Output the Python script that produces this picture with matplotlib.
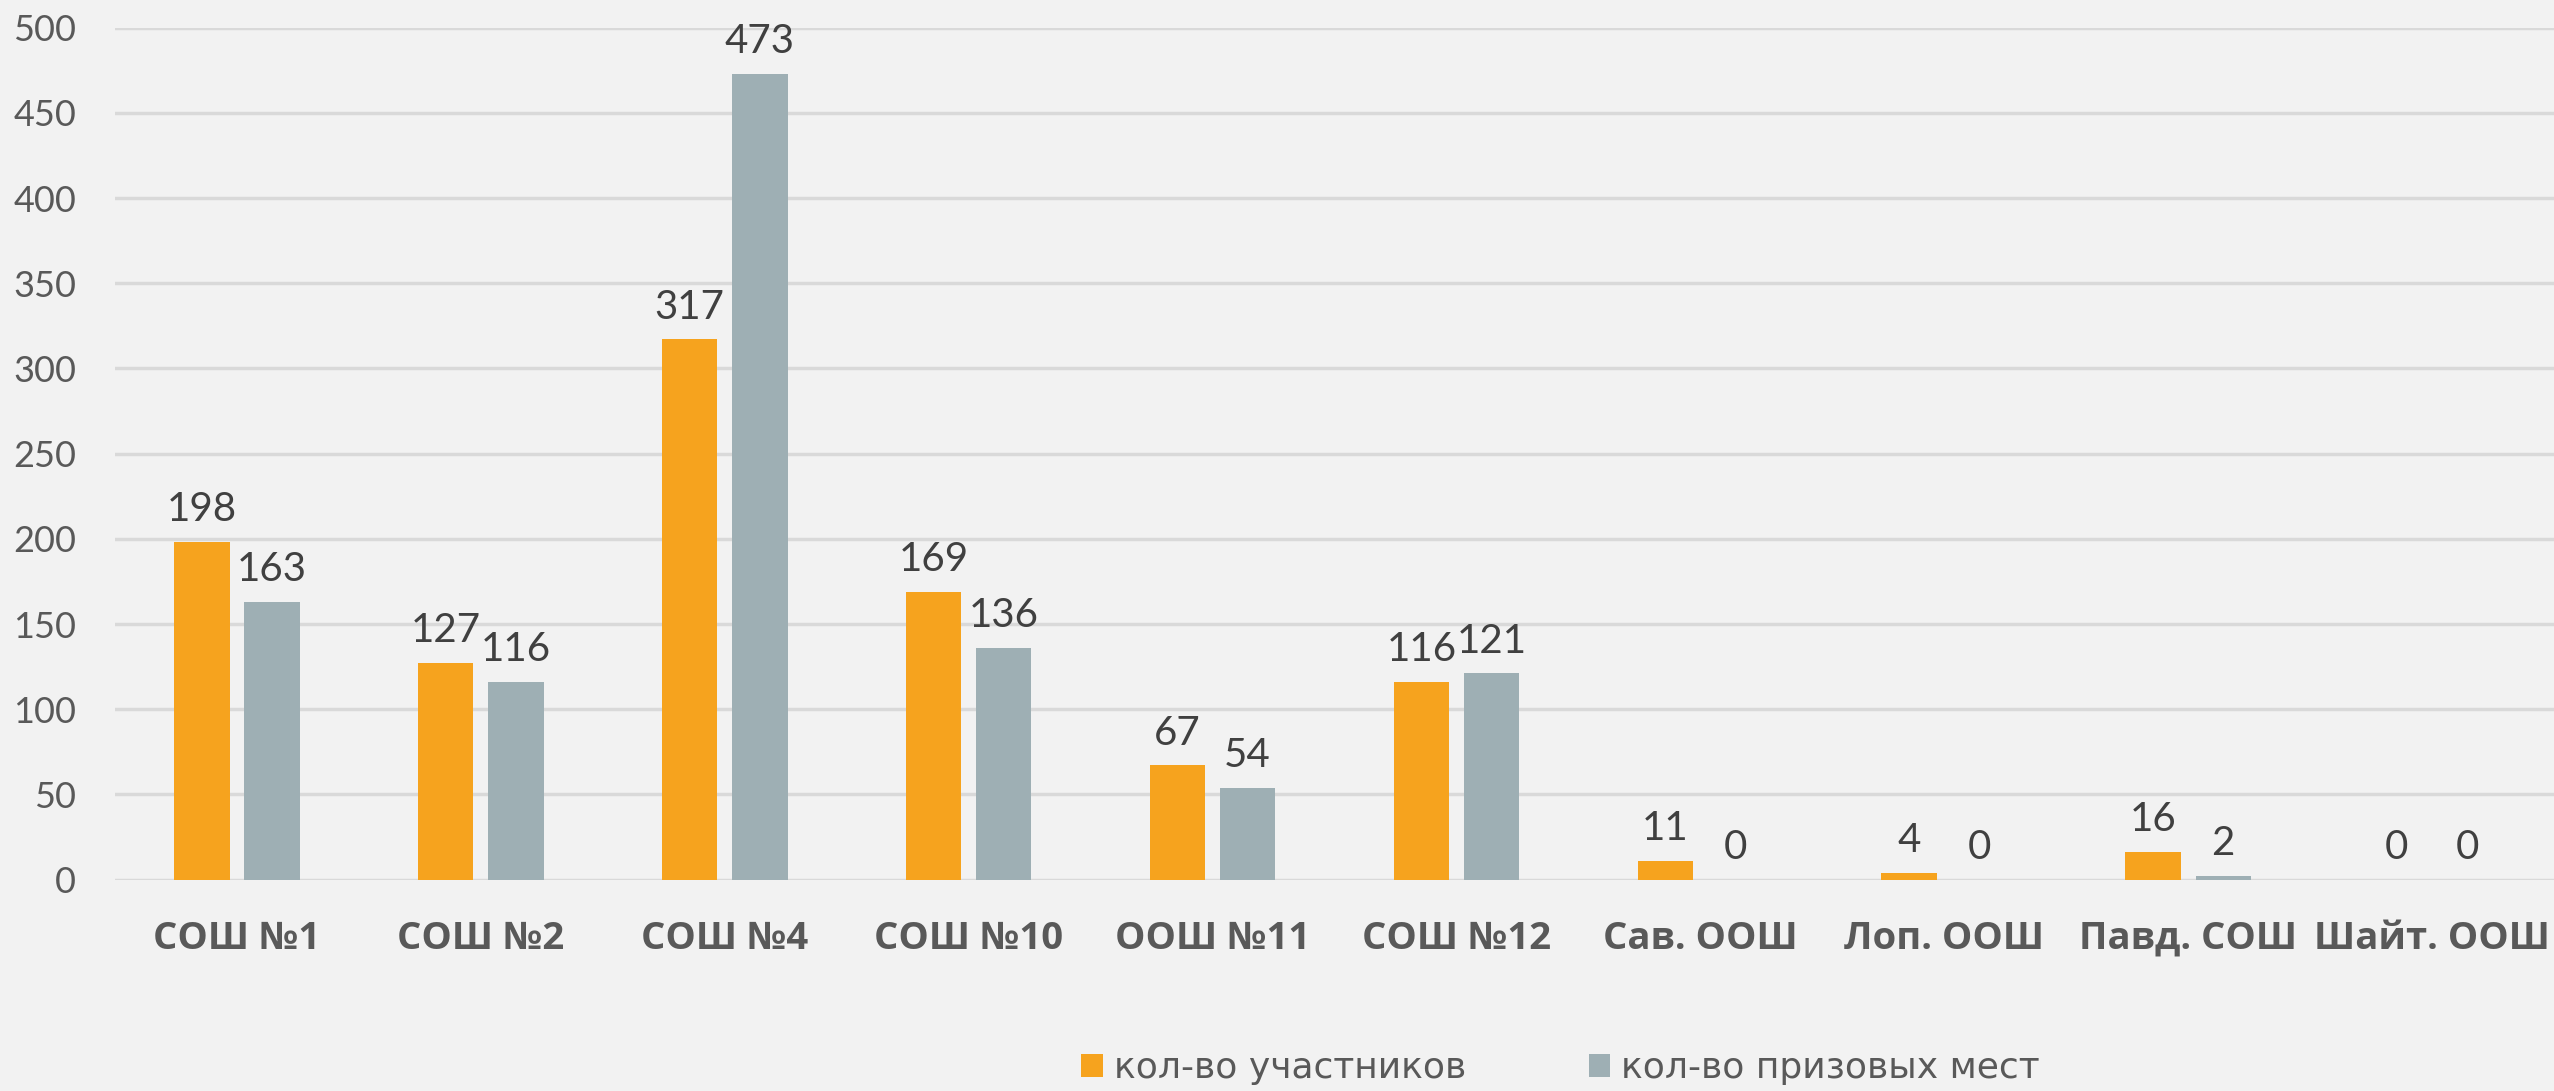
import matplotlib
matplotlib.use("Agg")
import matplotlib.pyplot as plt
import numpy as np
from matplotlib.patches import Patch

categories = ["СОШ №1", "СОШ №2", "СОШ №4", "СОШ №10", "ООШ №11", "СОШ №12",
              "Сав. ООШ", "Лоп. ООШ", "Павд. СОШ", "Шайт. ООШ"]
participants = [198, 127, 317, 169, 67, 116, 11, 4, 16, 0]
prizes = [163, 116, 473, 136, 54, 121, 0, 0, 2, 0]
series_names = ["кол-во участников", "кол-во призовых мест"]
yticks = [0, 50, 100, 150, 200, 250, 300, 350, 400, 450, 500]

ORANGE = "#F6A31E"
GRAY = "#9EAFB4"
BG = "#F2F2F2"

W, H = 2554, 1091
fig = plt.figure(figsize=(W / 100, H / 100), dpi=100, facecolor=BG)
ax = fig.add_axes([115 / W, 1 - 879.6 / H, (W - 115) / W, (879.6 - 27.7) / H])
ax.set_facecolor(BG)

x = np.arange(len(categories))
bw = 0.227
off = 0.144
b1 = ax.bar(x - off, participants, bw, color=ORANGE, zorder=3)
b2 = ax.bar(x + off, prizes, bw, color=GRAY, zorder=3)

lab_font = dict(family=["Lato", "DejaVu Sans"], fontsize=29, color="#404040")
for bars, vals in ((b1, participants), (b2, prizes)):
    for rect, v in zip(bars, vals):
        ax.annotate(str(v), (rect.get_x() + rect.get_width() / 2, v),
                    xytext=(0, 10), textcoords="offset points",
                    ha="center", va="bottom", **lab_font)

ax.set_xlim(-0.5, len(categories) - 0.5)
ax.set_ylim(0, 500)
ax.set_yticks(yticks)
ax.set_yticklabels([str(t) for t in yticks], family=["Lato", "DejaVu Sans"],
                   fontsize=26, color="#595959")
ax.set_xticks(x)
ax.set_xticklabels(categories, family=["Open Sans", "DejaVu Sans"],
                   fontweight="bold", fontsize=27.5, color="#595959")
ax.tick_params(axis="y", length=0, pad=28)
ax.tick_params(axis="x", length=0, pad=29)
ax.grid(axis="y", color="#D9D9D9", linewidth=2.5, zorder=0)
for s in ax.spines.values():
    s.set_visible(False)

handles = [Patch(facecolor=ORANGE), Patch(facecolor=GRAY)]
leg = fig.legend(handles, series_names, loc="center", bbox_to_anchor=(0.611, 0.021),
                 ncol=2, frameon=False, handlelength=0.6, handleheight=0.6,
                 handletextpad=0.3, columnspacing=3.4,
                 prop=dict(family=["Liberation Sans Narrow", "DejaVu Sans"], size=26))
for t in leg.get_texts():
    t.set_color("#595959")

fig.savefig("out.png", dpi=100, facecolor=BG)
